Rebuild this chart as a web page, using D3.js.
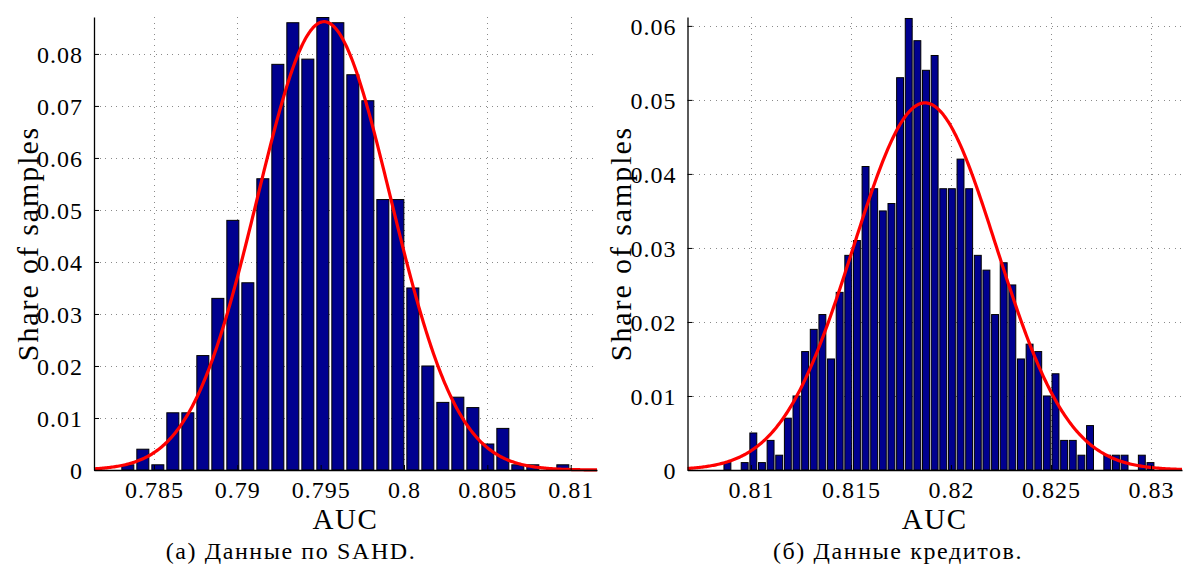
<!DOCTYPE html>
<html>
<head>
<meta charset="utf-8">
<script src="https://cdn.jsdelivr.net/npm/d3@7"></script>
<style>
  html, body { margin: 0; padding: 0; background: #fff; }
  svg { display: block; }
  text { font-family: "Liberation Serif", "DejaVu Serif", serif; fill: #000; }
</style>
</head>
<body>
<svg id="chart" width="1184" height="565"></svg>
<script>
// ---- SAHD bootstrap AUC histogram (share of samples per bin) ----
const sahdFirstBin = 0.78343;   // centre of the first bin
const sahdBinWidth = 0.0009;
const sahdShares = [
  0.001, 0.004, 0.001, 0.011, 0.011, 0.022, 0.033, 0.048, 0.036, 0.056,
  0.078, 0.086, 0.079, 0.087, 0.086, 0.076, 0.071, 0.052, 0.052, 0.035,
  0.020, 0.013, 0.014, 0.012, 0.005, 0.008, 0.001, 0.001, 0.000, 0.001
];
const sahdFitMean = 0.7952, sahdFitSd = 0.0040, sahdFitPeak = 0.0862;
const sahdXTicks = [0.785, 0.79, 0.795, 0.8, 0.805, 0.81];
const sahdYTicks = [0, 0.01, 0.02, 0.03, 0.04, 0.05, 0.06, 0.07, 0.08];
const sahdXDomain = [0.7814, 0.81158];
const sahdYMax = 0.0871;

// ---- Credit data bootstrap AUC histogram ----
const creditFirstBin = 0.808825;
const creditBinWidth = 0.0004316;
const creditShares = [
  0.001, 0.000, 0.001, 0.005, 0.001, 0.004, 0.002, 0.007, 0.010, 0.016,
  0.019, 0.021, 0.015, 0.024, 0.029, 0.031, 0.041, 0.038, 0.035, 0.036,
  0.053, 0.061, 0.058, 0.054, 0.056, 0.038, 0.038, 0.042, 0.038, 0.029,
  0.027, 0.021, 0.028, 0.025, 0.015, 0.017, 0.016, 0.010, 0.013, 0.004,
  0.004, 0.002, 0.006, 0.000, 0.002, 0.002, 0.002, 0.000, 0.002, 0.001
];
const creditFitMean = 0.8187, creditFitSd = 0.00358, creditFitPeak = 0.0496;
const creditXTicks = [0.81, 0.815, 0.82, 0.825, 0.83];
const creditYTicks = [0, 0.01, 0.02, 0.03, 0.04, 0.05, 0.06];
const creditXDomain = [0.80683, 0.83155];
const creditYMax = 0.0612;

const xLabel = "AUC";
const yLabel = "Share of samples";
const captions = ["(a) Данные по SAHD.", "(б) Данные кредитов."];

const svg = d3.select("#chart");
const fmt = v => (v === 0 ? "0" : String(+v.toFixed(3)));

function drawPanel(opt) {
  const { left, right, top, bottom } = opt.box;
  const x = d3.scaleLinear().domain(opt.xDomain).range([left, right]);
  const y = d3.scaleLinear().domain([0, opt.yMax]).range([bottom, top]);
  const g = svg.append("g");

  // dotted grid
  const grid = g.append("g")
    .attr("stroke", "#8a8a8a").attr("stroke-width", 1)
    .attr("stroke-dasharray", "1,4.6").attr("shape-rendering", "crispEdges");
  grid.selectAll("line.gx").data(opt.xTicks).join("line")
    .attr("x1", d => Math.round(x(d)) + 0.5).attr("x2", d => Math.round(x(d)) + 0.5)
    .attr("y1", top).attr("y2", bottom);
  grid.selectAll("line.gy").data(opt.yTicks.filter(d => d > 0)).join("line")
    .attr("y1", d => Math.round(y(d)) + 0.5).attr("y2", d => Math.round(y(d)) + 0.5)
    .attr("x1", left).attr("x2", right);

  // histogram bars
  const bars = opt.shares.map((s, i) => ({ c: opt.firstBin + i * opt.binWidth, s }));
  const halfW = opt.binWidth * 0.4;
  g.append("g").selectAll("rect").data(bars).join("rect")
    .attr("x", d => x(d.c - halfW))
    .attr("width", d => x(d.c + halfW) - x(d.c - halfW))
    .attr("y", d => y(d.s))
    .attr("height", d => y(0) - y(d.s))
    .attr("fill", "#00008f")
    .attr("stroke", "#000").attr("stroke-width", 1);

  // fitted normal curve
  const xs = d3.range(0, 401).map(i => opt.xDomain[0] + (opt.xDomain[1] - opt.xDomain[0]) * i / 400);
  const curve = xs.map(v => [v, opt.fitPeak * Math.exp(-((v - opt.fitMean) ** 2) / (2 * opt.fitSd ** 2))]);
  g.append("path").datum(curve)
    .attr("fill", "none").attr("stroke", "#ff0000").attr("stroke-width", 3.2)
    .attr("stroke-linejoin", "round")
    .attr("d", d3.line().x(d => x(d[0])).y(d => y(d[1])));

  // axes (ticks pointing inward, MATLAB-style)
  const xAxis = g.append("g").attr("transform", `translate(0,${bottom})`)
    .call(d3.axisBottom(x).tickValues(opt.xTicks).tickFormat(fmt).tickSizeInner(-5).tickSizeOuter(0).tickPadding(12));
  const yAxis = g.append("g").attr("transform", `translate(${left},0)`)
    .call(d3.axisLeft(y).tickValues(opt.yTicks).tickFormat(fmt).tickSizeInner(-5).tickSizeOuter(0).tickPadding(11));
  [xAxis, yAxis].forEach(a => {
    a.select(".domain").attr("stroke", "#000").attr("stroke-width", 1.3);
    a.selectAll(".tick line").attr("stroke", "#000");
    a.selectAll(".tick text").attr("font-size", 24).attr("letter-spacing", "1px")
      .attr("font-family", '"Liberation Serif", serif').attr("fill", "#000");
  });
  yAxis.selectAll(".tick text").attr("dy", "0.34em");
  xAxis.selectAll(".tick text").attr("dy", "0.68em");

  // labels
  g.append("text").attr("x", (left + right) / 2).attr("y", 529)
    .attr("text-anchor", "middle").attr("font-size", 29).attr("letter-spacing", "1.6px").text(xLabel);
  g.append("text")
    .attr("transform", `translate(${opt.yLabelX},${(top + bottom) / 2}) rotate(-90)`)
    .attr("text-anchor", "middle").attr("font-size", 30).attr("letter-spacing", "1.9px").text(yLabel);
  g.append("text").attr("x", opt.captionX).attr("y", 559)
    .attr("text-anchor", "middle").attr("font-size", 24).attr("letter-spacing", "1.6px").text(opt.caption);
}

drawPanel({
  box: { left: 94, right: 597, top: 17, bottom: 470 },
  xDomain: sahdXDomain, yMax: sahdYMax, xTicks: sahdXTicks, yTicks: sahdYTicks,
  firstBin: sahdFirstBin, binWidth: sahdBinWidth, shares: sahdShares,
  fitMean: sahdFitMean, fitSd: sahdFitSd, fitPeak: sahdFitPeak,
  yLabelX: 38, captionX: 291, caption: captions[0]
});
drawPanel({
  box: { left: 687.5, right: 1182, top: 17, bottom: 470 },
  xDomain: creditXDomain, yMax: creditYMax, xTicks: creditXTicks, yTicks: creditYTicks,
  firstBin: creditFirstBin, binWidth: creditBinWidth, shares: creditShares,
  fitMean: creditFitMean, fitSd: creditFitSd, fitPeak: creditFitPeak,
  yLabelX: 631, captionX: 898, caption: captions[1]
});
</script>
</body>
</html>
